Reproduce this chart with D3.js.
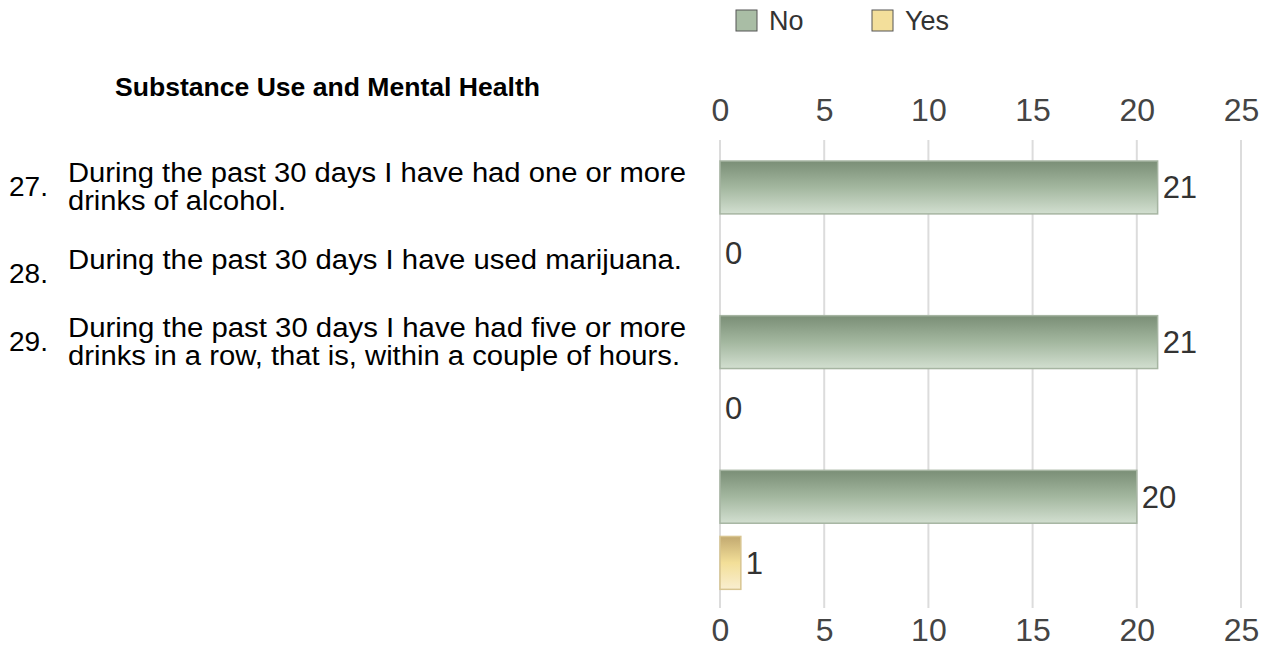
<!DOCTYPE html>
<html lang="en">
<head>
  <meta charset="UTF-8">
  <script src="https://cdn.jsdelivr.net/npm/d3@7"></script>
  <title>Substance Use and Mental Health</title>
  <style>
    body { margin: 0; background: #fff; }
  </style>
</head>
<body>
  <script>
    const title = 'Substance Use and Mental Health'
    const numbers = ['27.', '28.', '29.']
    const questions = [
      ['During the past 30 days I have had one or more', 'drinks of alcohol.'],
      ['During the past 30 days I have used marijuana.'],
      ['During the past 30 days I have had five or more', 'drinks in a row, that is, within a couple of hours.']
    ]
    const series = ['No', 'Yes']
    const noValues = [21, 21, 20]
    const yesValues = [0, 0, 1]
    const ticks = [0, 5, 10, 15, 20, 25]

    const width = 1269, height = 661
    const margin = ({top: 140, right: 28, bottom: 53, left: 720})

    const svg = d3.select('body').append('svg')
        .attr('width', width)
        .attr('height', height)
        .style('font-family', 'Arial, "Liberation Sans", sans-serif')

    const defs = svg.append('defs')
    const grads = {
      No: [['0%', '#7a8e76'], ['50%', '#a3b79f'], ['100%', '#d2dfd0']],
      Yes: [['0%', '#c2a970'], ['50%', '#f3df98'], ['100%', '#f9eed0']]
    }
    Object.entries(grads).forEach(([k, stops]) => {
      const g = defs.append('linearGradient')
          .attr('id', 'grad' + k)
          .attr('x1', 0).attr('y1', 0).attr('x2', 0).attr('y2', 1)
      stops.forEach(s => g.append('stop').attr('offset', s[0]).attr('stop-color', s[1]))
    })

    const x = d3.scaleLinear()
        .domain([0, 25])
        .range([margin.left, width - margin.right])

    const y = d3.scaleBand()
        .domain(numbers)
        .range([margin.top + 3, height - margin.bottom - 1])

    const sub = d3.scaleBand()
        .domain(series)
        .range([18, 137])
        .paddingInner(0.2)

    // gridlines
    svg.append('g')
      .selectAll('line')
      .data(ticks)
      .join('line')
        .attr('x1', d => x(d)).attr('x2', d => x(d))
        .attr('y1', margin.top).attr('y2', height - margin.bottom)
        .attr('stroke', '#dcdcdc')
        .attr('stroke-width', 2)

    // top and bottom axes
    const axisTop = d3.axisTop(x).tickValues(ticks).tickSize(0).tickPadding(0)
    const axisBottom = d3.axisBottom(x).tickValues(ticks).tickSize(0).tickPadding(0)

    const gTop = svg.append('g')
        .attr('transform', `translate(0,${margin.top - 30})`)
        .call(axisTop)
    const gBot = svg.append('g')
        .attr('transform', `translate(0,${height - margin.bottom + 22})`)
        .call(axisBottom)
    ;[gTop, gBot].forEach(g => {
      g.select('.domain').remove()
      g.selectAll('text')
          .attr('font-size', 32)
          .attr('fill', '#444')
          .attr('font-family', 'Arial, "Liberation Sans", sans-serif')
          .attr('y', 0)
          .attr('dy', '0.35em')
    })

    // bars
    const rows = numbers.map((n, i) => ({n, No: noValues[i], Yes: yesValues[i]}))
    const groups = svg.append('g')
      .selectAll('g')
      .data(rows)
      .join('g')
        .attr('transform', d => `translate(0,${y(d.n)})`)

    groups.selectAll('rect')
      .data(d => series.map(s => ({s, v: d[s]})).filter(e => e.v > 0))
      .join('rect')
        .attr('x', x(0))
        .attr('y', d => sub(d.s))
        .attr('width', d => x(d.v) - x(0))
        .attr('height', sub.bandwidth())
        .attr('fill', d => `url(#grad${d.s})`)
        .attr('stroke', d => d.s === 'No' ? '#a6b5a2' : '#d8c590')
        .attr('stroke-width', 1.5)

    groups.selectAll('text.val')
      .data(d => series.map(s => ({s, v: d[s]})))
      .join('text')
        .attr('class', 'val')
        .attr('x', d => x(d.v) + 5)
        .attr('y', d => sub(d.s) + sub.bandwidth() / 2)
        .attr('dy', '0.35em')
        .attr('font-size', 31)
        .attr('fill', '#333')
        .text(d => d.v)

    // left side labels
    svg.append('text')
        .attr('x', 115)
        .attr('y', 96)
        .attr('font-weight', 'bold')
        .attr('font-size', 25)
        .attr('fill', '#000')
        .attr('textLength', 425)
        .attr('lengthAdjust', 'spacingAndGlyphs')
        .text(title)

    const qPos = [172, 259, 327]
    const qWidths = [[618, 218], [614], [618, 612]]
    numbers.forEach((n, i) => {
      const lines = questions[i]
      const top = qPos[i]
      svg.append('text')
          .attr('x', 9)
          .attr('y', top + 24)
          .attr('font-size', 28)
          .attr('fill', '#000')
          .text(n)
      lines.forEach((l, j) => {
        svg.append('text')
            .attr('x', 68)
            .attr('y', top + 10 + j * 28)
            .attr('font-size', 27)
            .attr('fill', '#000')
            .attr('textLength', qWidths[i][j])
            .attr('lengthAdjust', 'spacingAndGlyphs')
            .text(l)
      })
    })

    // legend
    const legend = svg.append('g')
      .selectAll('g')
      .data(series)
      .join('g')
        .attr('transform', (d, i) => `translate(${736 + i * 136},10)`)
    legend.append('rect')
        .attr('width', 21).attr('height', 21)
        .attr('fill', d => d === 'No' ? '#a9bda5' : '#f3df9b')
        .attr('stroke', '#555')
        .attr('stroke-width', 1)
    legend.append('text')
        .attr('x', 33)
        .attr('y', 11)
        .attr('dy', '0.35em')
        .attr('font-size', 27)
        .attr('fill', '#333')
        .text(d => d)
  </script>
</body>
</html>
